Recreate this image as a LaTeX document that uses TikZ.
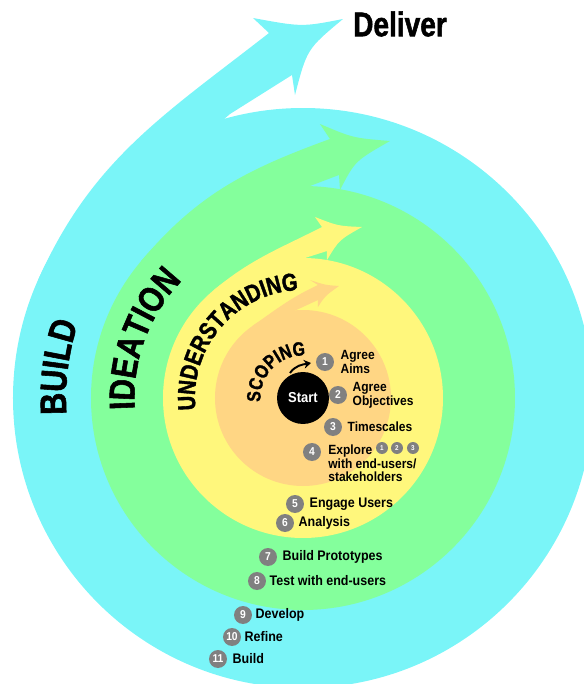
\documentclass[tikz,border=0pt]{standalone}
\usepackage{fontspec}
\setmainfont{Liberation Sans}
\newfontfamily\itemfont[FakeStretch=0.9]{Liberation Sans}
\newfontfamily\ringfont[FakeStretch=0.82,FakeBold=1.5]{Liberation Sans}
\usetikzlibrary{positioning,decorations.text,arrows.meta}

\definecolor{buildcyan}{HTML}{7AF5F8}
\definecolor{ideagreen}{HTML}{84FF9C}
\definecolor{understandyellow}{HTML}{FFF77C}
\definecolor{scopeorange}{HTML}{FFD684}
\definecolor{badgegrey}{HTML}{808080}

\tikzset{
  badge/.style={circle, fill=badgegrey, minimum size=0.36cm, inner sep=0pt, text=white,
    font=\itemfont\bfseries\fontsize{6.5}{6.5}\selectfont},
  smallbadge/.style={badge, minimum size=0.24cm, font=\itemfont\bfseries\fontsize{4}{4}\selectfont},
  steptext/.style={font=\itemfont\bfseries\fontsize{7.6}{7}\selectfont, inner sep=0pt, align=left},
  outertext/.style={steptext, font=\itemfont\bfseries\fontsize{7.9}{7}\selectfont},
  ringword/.style={decorate, decoration={text along path, text align=center, text={#1}}}
}

\begin{document}
\begin{tikzpicture}[x=0.02cm,y=0.02cm]
  \useasboundingbox (-303,-286) rectangle (281,398);

  %%%%% RINGS %%%%%
  \fill[buildcyan] (0,0) circle (290);
  \fill[buildcyan] (156:290) to[out=66,in=218] (-34,365) -- (-50,380)
    .. controls (-1,371) .. (40,379) .. controls (4,349) .. (-8,303)
    -- (-11,323) -- (-73,284) -- cycle;

  \fill[ideagreen] (0,0) circle (212);
  \fill[ideagreen] (140:212) to[out=50,in=200] (27,259) -- (17,274)
    .. controls (50,260) .. (87,257) .. controls (52,237) .. (37,208)
    -- (36,223) -- (-1,209) -- cycle;

  \fill[understandyellow] (0,0) circle (140);
  \fill[understandyellow] (130:140) to[out=40,in=207] (19,171) -- (12,181)
    .. controls (35,172) .. (59,171) .. controls (36,158) .. (24,138)
    -- (24,147) -- (2,140) -- cycle;

  \fill[scopeorange] (0,0) circle (88);
  \fill[scopeorange] (125:88) to[out=35,in=205] (15,113) -- (7,118)
    .. controls (22,113) .. (36,112) .. controls (22,102) .. (15,91)
    -- (15,98) -- (-11,86) -- cycle;

  %%%%% RING NAMES %%%%%
  \path[ringword={|\ringfont\bfseries\fontsize{21}{21}\selectfont|BUILD}]
    (212.8:237) arc[start angle=212.8, end angle=132.8, radius=237];
  \path[ringword={|\ringfont\bfseries\fontsize{20.5}{20.5}\selectfont|IDEATION}]
    (219.8:168.5) arc[start angle=219.8, end angle=99.8, radius=168.5];
  \path[ringword={|\ringfont\bfseries\fontsize{14}{14}\selectfont|UNDERSTANDING}]
    (209.4:108) arc[start angle=209.4, end angle=69.4, radius=108];
  \path[ringword={|\ringfont\bfseries\fontsize{11}{11}\selectfont|SCOPING}]
    (221:42.5) arc[start angle=221, end angle=51, radius=42.5];

  %%%%% START %%%%%
  \node[circle, fill=black, minimum size=1.04cm, inner sep=0pt, text=white,
    font=\itemfont\bfseries\fontsize{8.2}{8.2}\selectfont] (start) at (0,0) {Start};
  \coordinate (spin) at (-13,25);
  \coordinate (spout) at (8,35);
  \draw[line width=1.1pt, -{Stealth[length=4pt,width=5pt]}] (spin) to[out=55,in=190] (spout);

  \node[font=\ringfont\bfseries\fontsize{19.5}{19.5}\selectfont, inner sep=0pt] (deliver) at (97,374) {Deliver};

  %%%%% STEPS %%%%%
  \node[badge] (b1) at (22,36) {1};
  \node[steptext, right=0.12cm of b1] (t1) {Agree\\Aims};
  \node[badge] (b2) at (35,3) {2};
  \node[steptext, right=0.1cm of b2] (t2) {Agree\\Objectives};
  \node[badge] (b3) at (30,-29) {3};
  \node[steptext, right=0.1cm of b3] (t3) {Timescales};
  \node[badge] (b4) at (9,-54) {4};
  \node[steptext, anchor=west] (t4) at (25,-65) {Explore\\with end-users/\\stakeholders};
  \node[smallbadge] (m1) at (79,-50) {1};
  \node[smallbadge] (m2) at (94,-50) {2};
  \node[smallbadge] (m3) at (110,-50) {3};

  \node[badge] (b5) at (-8,-106) {5};
  \node[outertext, right=0.1cm of b5] (t5) {Engage Users};
  \node[badge] (b6) at (-18,-125) {6};
  \node[outertext, right=0.08cm of b6] (t6) {Analysis};

  \node[badge] (b7) at (-35,-159) {7};
  \node[outertext, right=0.1cm of b7] (t7) {Build Prototypes};
  \node[badge] (b8) at (-46,-183) {8};
  \node[outertext, right=0.06cm of b8] (t8) {Test with end-users};

  \node[badge] (b9) at (-60,-217) {9};
  \node[outertext, right=0.06cm of b9] (t9) {Develop};
  \node[badge] (b10) at (-71,-239) {10};
  \node[outertext, right=0.06cm of b10] (t10) {Refine};
  \node[badge] (b11) at (-85,-261) {11};
  \node[outertext, right=0.1cm of b11] (t11) {Build};
\end{tikzpicture}
\end{document}
